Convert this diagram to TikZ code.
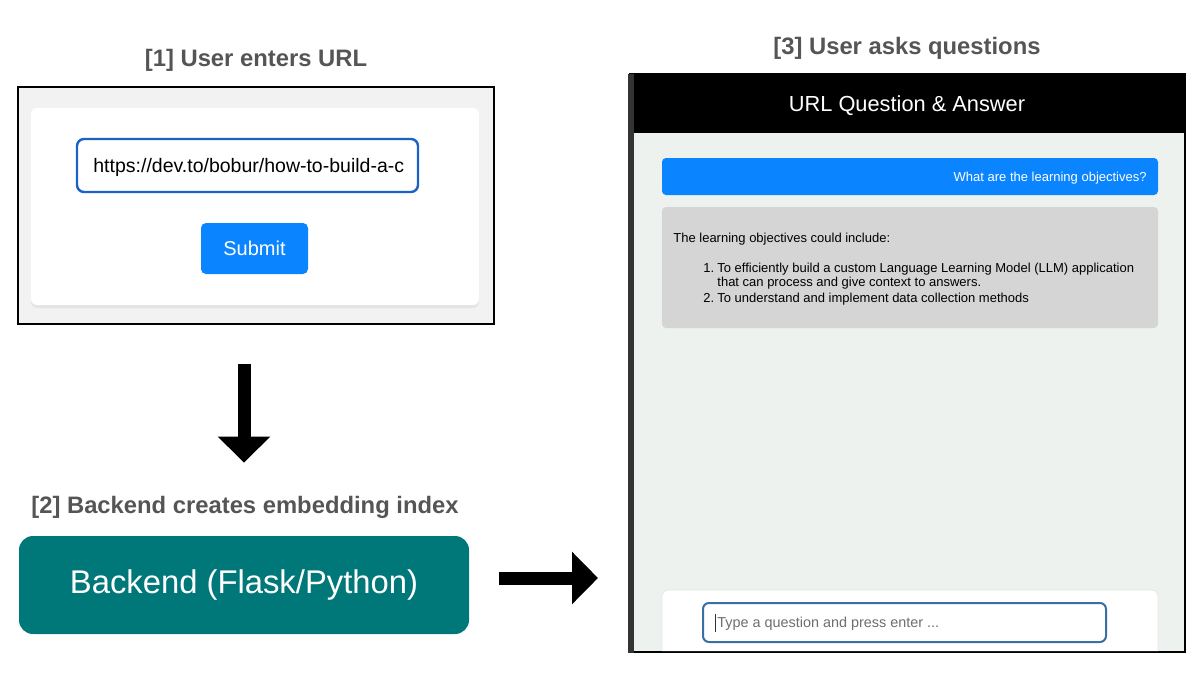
\documentclass[tikz,border=0pt]{standalone}
\usepackage{xcolor}
\usepackage{fontspec}
\setmainfont{Liberation Sans}
\usetikzlibrary{arrows.meta,shadows}

\definecolor{titlegray}{HTML}{555555}
\definecolor{pagegray}{HTML}{F2F2F2}
\definecolor{linkblue}{HTML}{1A62C4}
\definecolor{buttonblue}{HTML}{0A84FF}
\definecolor{backteal}{HTML}{00787A}
\definecolor{chatbg}{HTML}{EEF2EF}
\definecolor{answergray}{HTML}{D5D5D5}
\definecolor{fieldblue}{HTML}{3A6EA5}
\definecolor{hintgray}{HTML}{6E6E6E}

\begin{document}
\begin{tikzpicture}[x=0.5pt, y=-0.5pt,
                steptitle/.style={font=\fontsize{11.9}{14}\selectfont\bfseries, text=titlegray, inner sep=0pt, text height=9pt, text depth=3pt},
                panel/.style={rectangle, inner sep=0pt},
                bigarrow/.style={line width=6.5pt, -{Triangle[width=25.5pt,length=13pt]}},
                chattext/.style={font=\fontsize{6.5}{8}\selectfont, inner sep=0pt, anchor=base west}]

                \useasboundingbox (0,0) rectangle (1200,676);

                \node[steptitle] (title1) at (256,60) {[1] User enters URL};
                \node[steptitle] (title2) at (245,507) {[2] Backend creates embedding index};
                \node[steptitle] (title3) at (907,48) {[3] User asks questions};

                \node[panel, draw=black, line width=1pt, fill=pagegray, minimum width=238pt, minimum height=118.5pt] (urlframe) at (256,205.5) {};
                \node[panel, fill=white, rounded corners=3pt, minimum width=224pt, minimum height=98.5pt,
                      drop shadow={shadow xshift=0pt, shadow yshift=-1.5pt, opacity=0.12}] (urlcard) at (255,206.5) {};
                \node[panel, draw=linkblue, line width=1.2pt, fill=white, rounded corners=3.5pt, minimum width=170.5pt, minimum height=26.5pt] (urlinput) at (247.5,165.5) {};
                \begin{scope}
                    \clip (urlinput.north west) rectangle ([xshift=-7.5pt]urlinput.south east);
                    \node[font=\fontsize{9.75}{12}\selectfont, inner sep=0pt, anchor=base west] (urltext) at (93,172) {https://dev.to/bobur/how-to-build-a-custom};
                \end{scope}
                \node[panel, fill=buttonblue, rounded corners=2.5pt, minimum width=53.5pt, minimum height=25.5pt, text=white, font=\fontsize{10}{12}\selectfont] (submit) at (254.5,248.5) {Submit};

                \node[panel, fill=backteal, rounded corners=7pt, minimum width=225pt, minimum height=49pt, text=white, font=\fontsize{16.4}{20}\selectfont] (backend) at (244,585) {Backend (Flask/Python)};

                \node[panel, draw=black, line width=1pt, fill=chatbg, minimum width=278pt, minimum height=288.5pt] (chat) at (907,363.5) {};
                \node[panel, fill=black, minimum width=278.5pt, minimum height=30pt, anchor=north, text=white, text depth=0pt, font=\fontsize{10.9}{13}\selectfont] (chathead) at ([yshift=0.5pt]chat.north) {URL Question \& Answer};
                \fill[black!80] (chat.north west) rectangle ([xshift=3pt]chat.south west);

                \node[panel, fill=buttonblue, rounded corners=2pt, minimum width=248pt, minimum height=18.5pt] (question) at (910,176.5) {};
                \node[chattext, text=white, anchor=base east] (questiontext) at (1147,181) {What are the learning objectives?};

                \node[panel, fill=answergray, rounded corners=2pt, minimum width=248pt, minimum height=60.5pt] (answer) at (910,267.5) {};
                \node[chattext] (answer0) at (673,242) {The learning objectives could include:};
                \node[chattext] (num1) at (703,272) {1.};
                \node[chattext] (answer1) at (717,272) {To efficiently build a custom Language Learning Model (LLM) application};
                \node[chattext] (answer1b) at (717,286) {that can process and give context to answers.};
                \node[chattext] (num2) at (703,302) {2.};
                \node[chattext] (answer2) at (717,302) {To understand and implement data collection methods};

                \filldraw[fill=white, draw=black!10, rounded corners=3pt] (662,651) -- (662,590) -- (1158,590) -- (1158,651);
                \node[panel, draw=fieldblue, line width=1pt, fill=white, rounded corners=3pt, minimum width=201.5pt, minimum height=19.5pt] (askfield) at (904.5,622.5) {};
                \node[chattext, font=\fontsize{7.2}{9}\selectfont, text=hintgray] (hint) at (717,627) {Type a question and press enter ...};
                \draw[black!80, line width=0.4pt] (715,614) -- (715,632);

                \draw[bigarrow, shorten <=19.5pt, shorten >=16pt] (urlframe.south -| backend.north) -- (title2.north -| backend.north);
                \draw[bigarrow, shorten <=15pt, shorten >=15pt] ([yshift=3.5pt]backend.east) -- ([yshift=3.5pt]backend.east -| chat.west);
            \end{tikzpicture}
\end{document}
